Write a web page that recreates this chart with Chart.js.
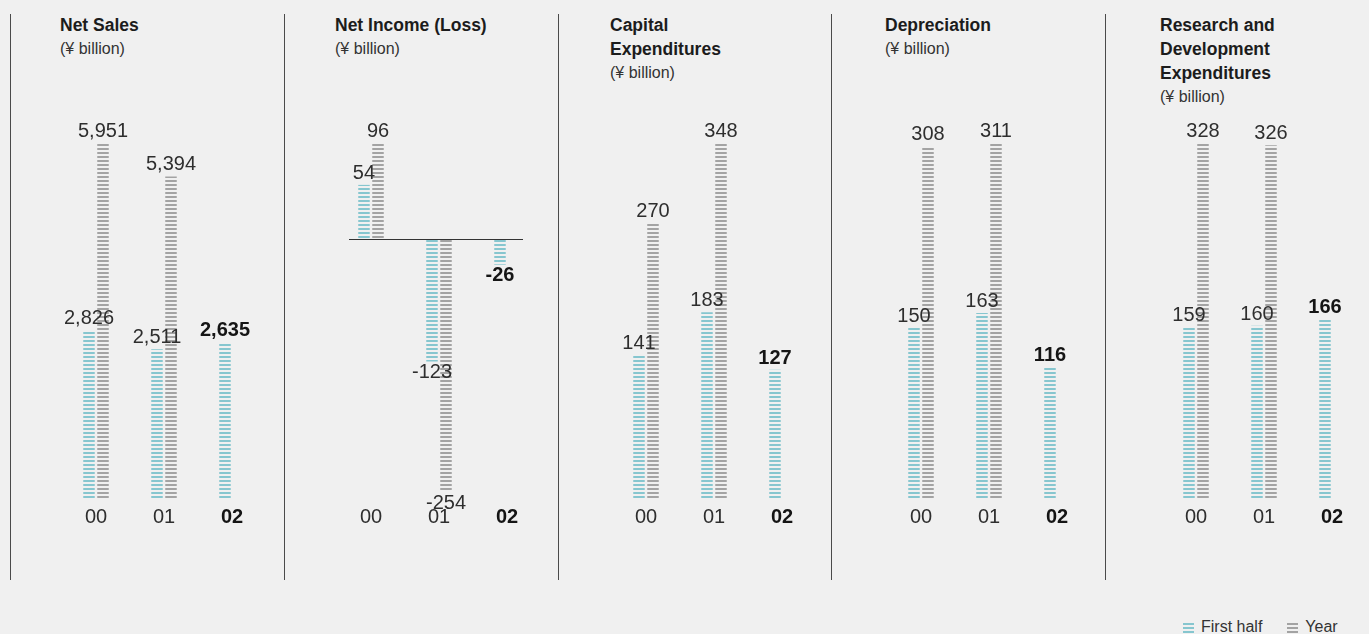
<!DOCTYPE html>
<html>
<head>
<meta charset="utf-8">
<script src="https://cdn.jsdelivr.net/npm/chart.js@4.4.1/dist/chart.umd.min.js"></script>
<style>
  html, body { margin: 0; padding: 0; background: #f0f0f0; }
  body { width: 1369px; height: 634px; position: relative; overflow: hidden; font-family: "Liberation Sans", Arial, sans-serif; color: #222; }
  .rule { position: absolute; top: 14px; height: 566px; width: 1px; background: #4a4a4a; }
  .head { position: absolute; top: 13px; line-height: 24px; }
  .head b { display: block; font-size: 17.5px; color: #1c1c1c; }
  .head span { display: block; font-size: 16px; color: #333; }
  .plot { position: absolute; top: 0; }
  .key { position: absolute; top: 619px; left: 1183px; font-size: 16px; line-height: 16px; color: #333; white-space: nowrap; }
  .key i { display: inline-block; width: 11px; height: 10px; margin-right: 7px; vertical-align: -1px; }
  .key .half { background: repeating-linear-gradient(to bottom, #86c6cf 0 2px, transparent 2px 4px); }
  .key .year { background: repeating-linear-gradient(to bottom, #a3a3a3 0 2px, transparent 2px 4px); margin-left: 25px; }
</style>
</head>
<body>
<div id="mount"></div>
<div class="key"><i class="half"></i>First half<i class="year"></i>Year</div>
<script>
// fiscal years on the x axis (latest one is set in bold)
const YEARS = ["00", "01", "02"];
const UNIT = "(¥ billion)";

const netSalesHalf = [2826, 2511, 2635];
const netSalesYear = [5951, 5394, null];
const netIncomeHalf = [54, -123, -26];
const netIncomeYear = [96, -254, null];
const capexHalf = [141, 183, 127];
const capexYear = [270, 348, null];
const deprHalf = [150, 163, 116];
const deprYear = [308, 311, null];
const rndHalf = [159, 160, 166];
const rndYear = [328, 326, null];

const TITLES = [
  ["Net Sales"],
  ["Net Income (Loss)"],
  ["Capital", "Expenditures"],
  ["Depreciation"],
  ["Research and", "Development", "Expenditures"],
];
const HALVES = [netSalesHalf, netIncomeHalf, capexHalf, deprHalf, rndHalf];
const FULLS = [netSalesYear, netIncomeYear, capexYear, deprYear, rndYear];

(function () {
  "use strict";
  const FONT = '"Liberation Sans", Arial, sans-serif';
  const TEAL = "#86c6cf", GREY = "#a3a3a3";
  const RULES = [10, 284, 558, 831, 1105];
  const fmt = (v) => v.toLocaleString("en-US");

  // 2px line every 4px, like the printed hatching
  function stripes(color) {
    const c = document.createElement("canvas");
    c.width = 4; c.height = 4;
    const g = c.getContext("2d");
    g.fillStyle = color; g.fillRect(0, 0, 4, 2);
    return g.createPattern(c, "repeat");
  }

  const valueLabels = {
    id: "valueLabels",
    afterDatasetsDraw(chart) {
      const { ctx } = chart;
      const last = chart.data.labels.length - 1;
      chart.data.datasets.forEach((d, di) => {
        chart.getDatasetMeta(di).data.forEach((bar, i) => {
          const v = d.data[i];
          if (v == null) return;
          ctx.save();
          ctx.font = (i === last ? "bold " : "") + "20px " + FONT;
          ctx.fillStyle = i === last ? "#151515" : "#2e2e2e";
          ctx.textAlign = "center";
          if (v >= 0) { ctx.textBaseline = "alphabetic"; ctx.fillText(fmt(v), bar.x, bar.y - 6); }
          else { ctx.textBaseline = "top"; ctx.fillText(fmt(v), bar.x, bar.y + 1); }
          ctx.restore();
        });
      });
    },
  };

  // zero baseline, only where the panel goes negative
  const zeroLine = {
    id: "zeroLine",
    beforeDatasetsDraw(chart) {
      const { ctx, chartArea: { left, right }, scales: { y } } = chart;
      if (y.min >= 0) return;
      const yp = Math.round(y.getPixelForValue(0)) + 0.5;
      ctx.save(); ctx.beginPath(); ctx.strokeStyle = "#333"; ctx.lineWidth = 1.2;
      ctx.moveTo(left + 12, yp); ctx.lineTo(right - 18, yp); ctx.stroke(); ctx.restore();
    },
  };

  const mount = document.getElementById("mount");
  RULES.forEach((x) => mount.insertAdjacentHTML("beforeend", `<div class="rule" style="left:${x}px"></div>`));

  TITLES.forEach((lines, i) => {
    mount.insertAdjacentHTML("beforeend",
      `<div class="head" style="left:${60 + 275 * i}px">${lines.map((l) => `<b>${l}</b>`).join("")}<span>${UNIT}</span></div>`);
    const cv = document.createElement("canvas");
    cv.className = "plot"; cv.width = 244; cv.height = 560;
    cv.style.left = (42 + 275 * i) + "px";
    mount.appendChild(cv);

    const half = HALVES[i], year = FULLS[i];
    const vals = half.concat(year).filter((v) => v != null);
    const lo = Math.min(0, ...vals);
    new Chart(cv, {
      type: "bar",
      data: {
        labels: YEARS,
        datasets: [
          { label: "First half", data: half, backgroundColor: stripes(TEAL), borderWidth: 0 },
          { label: "Year", data: year, backgroundColor: stripes(GREY), borderWidth: 0 },
        ],
      },
      options: {
        responsive: false, animation: false,
        layout: { padding: { top: 143, bottom: 26, left: 20, right: 20 } },
        datasets: { bar: { categoryPercentage: 0.412, barPercentage: 0.82 } },
        plugins: { legend: { display: false }, tooltip: { enabled: false } },
        scales: {
          x: {
            grid: { display: false, drawTicks: false }, border: { display: false },
            ticks: {
              padding: 5,
              color: (c) => (c.index === YEARS.length - 1 ? "#151515" : "#2e2e2e"),
              font: (c) => ({ family: FONT, size: 20, weight: c.index === YEARS.length - 1 ? "bold" : "normal" }),
            },
          },
          y: { display: false, min: lo < 0 ? -262 : 0, max: Math.max(...vals) },
        },
      },
      plugins: [zeroLine, valueLabels],
    });
  });
})();
</script>
</body>
</html>
